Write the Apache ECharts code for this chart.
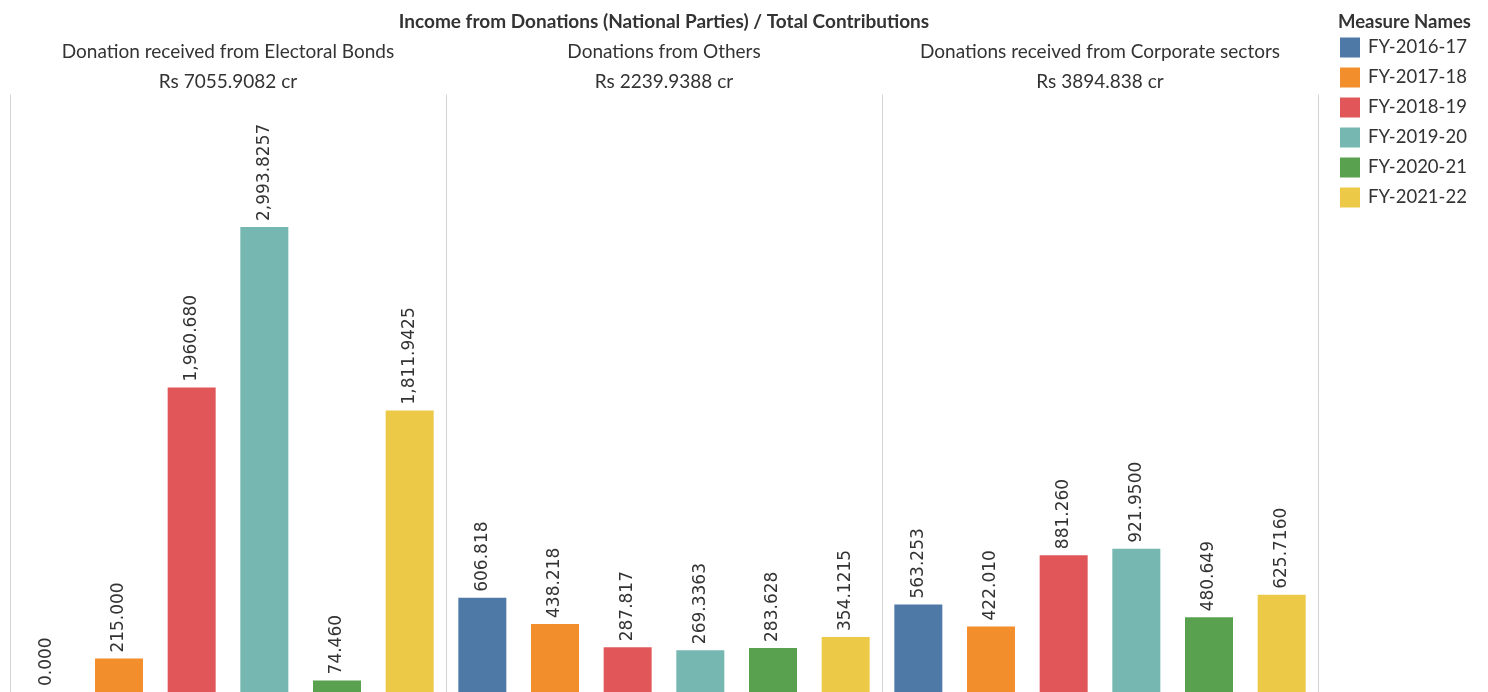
<!DOCTYPE html>
<html>
<head>
<meta charset="utf-8">
<script src="https://cdn.jsdelivr.net/npm/echarts@6/dist/echarts.min.js"></script>
<style>
html,body{margin:0;padding:0;background:#fff;}
#chart{width:1488px;height:692px;}
</style>
</head>
<body>
<div id="chart"></div>
<script>
// ---- data ----
const fiscalYears = ['FY-2016-17', 'FY-2017-18', 'FY-2018-19', 'FY-2019-20', 'FY-2020-21', 'FY-2021-22'];
const panelNames = ['Donation received from Electoral Bonds', 'Donations from Others', 'Donations received from Corporate sectors'];
const panelTotals = ['Rs 7055.9082 cr', 'Rs 2239.9388 cr', 'Rs 3894.838 cr'];

const electoralBonds = [0, 215.000, 1960.680, 2993.8257, 74.460, 1811.9425];
const electoralBondsLabels = ['0.000', '215.000', '1,960.680', '2,993.8257', '74.460', '1,811.9425'];

const othersDonations = [606.818, 438.218, 287.817, 269.3363, 283.628, 354.1215];
const othersLabels = ['606.818', '438.218', '287.817', '269.3363', '283.628', '354.1215'];

const corporateDonations = [563.253, 422.010, 881.260, 921.9500, 480.649, 625.7160];
const corporateLabels = ['563.253', '422.010', '881.260', '921.9500', '480.649', '625.7160'];

const yearColors = ['#4e79a7', '#f28e2b', '#e15759', '#76b7b2', '#59a14f', '#edc948'];

// ---- build option ----
const panelValues = [electoralBonds, othersDonations, corporateDonations];
const panelLabels = [electoralBondsLabels, othersLabels, corporateLabels];

const PANEL_LEFT = 10, PANEL_W = 436, PANEL_TOP = 95;
const Y_MAX = 3844;
const labelFont = 'DejaVu Sans';
const textFont = 'Lato';

const grids = [], xAxes = [], yAxes = [], series = [], titles = [];

titles.push({
  text: 'Income from Donations (National Parties) / Total Contributions',
  left: PANEL_LEFT + PANEL_W * 1.5, top: 22, padding: 0, textAlign: 'center', textVerticalAlign: 'middle',
  textStyle: {fontFamily: textFont, fontSize: 19, fontWeight: 'bold', color: '#333'}
});
titles.push({
  text: 'Measure Names', left: 1338, top: 22, padding: 0, textVerticalAlign: 'middle', textAlign: 'left',
  textStyle: {fontFamily: textFont, fontSize: 18.5, fontWeight: 'bold', color: '#333'}
});

panelNames.forEach((name, p) => {
  const cx = PANEL_LEFT + PANEL_W * p + PANEL_W / 2;
  titles.push({
    text: name, left: cx, top: 52, padding: 0, textAlign: 'center', textVerticalAlign: 'middle',
    textStyle: {fontFamily: textFont, fontSize: 19, fontWeight: 'normal', color: '#333'}
  });
  titles.push({
    text: panelTotals[p], left: cx, top: 82, padding: 0, textAlign: 'center', textVerticalAlign: 'middle',
    textStyle: {fontFamily: textFont, fontSize: 19, fontWeight: 'normal', color: '#333'}
  });
  grids.push({left: PANEL_LEFT + PANEL_W * p, width: PANEL_W, top: PANEL_TOP, bottom: -2, containLabel: false});
  xAxes.push({
    type: 'category', gridIndex: p, data: fiscalYears,
    axisLine: {show: false}, axisTick: {show: false}, axisLabel: {show: false}, splitLine: {show: false}
  });
  yAxes.push({
    type: 'value', gridIndex: p, min: 0, max: Y_MAX, position: 'left',
    axisLine: {show: true, lineStyle: {color: '#d4d4d4', width: 1}},
    axisTick: {show: false}, axisLabel: {show: false}, splitLine: {show: false}
  });
  fiscalYears.forEach((fy, i) => {
    series.push({
      type: 'bar', name: fy, xAxisIndex: p, yAxisIndex: p, stack: 'panel' + p,
      barWidth: 48,
      itemStyle: {color: yearColors[i]},
      data: fiscalYears.map((_, j) => (j === i ? panelValues[p][i] : '-')),
      label: {
        show: true, position: 'top', rotate: 90, align: 'left', verticalAlign: 'middle', distance: 6,
        fontFamily: labelFont, fontSize: 17, color: '#333',
        formatter: () => panelLabels[p][i]
      },
      emphasis: {disabled: true}
    });
  });
});
// right border of last panel
yAxes.push({
  type: 'value', gridIndex: 2, min: 0, max: Y_MAX, position: 'right',
  axisLine: {show: true, lineStyle: {color: '#d4d4d4', width: 1}},
  axisTick: {show: false}, axisLabel: {show: false}, splitLine: {show: false}
});

const option = {
  backgroundColor: '#ffffff',
  animation: false,
  title: titles,
  legend: {
    orient: 'vertical', left: 1340, top: 37.5, itemWidth: 20, itemHeight: 20, itemGap: 10,
    icon: 'rect', padding: 0, selectedMode: false,
    data: fiscalYears,
    textStyle: {fontFamily: textFont, fontSize: 18.5, color: '#333', padding: [0, 0, 0, 3]}
  },
  grid: grids,
  xAxis: xAxes,
  yAxis: yAxes,
  series: series
};

const chart = echarts.init(document.getElementById('chart'), null, {renderer: 'canvas'});
chart.setOption(option);
</script>
</body>
</html>
